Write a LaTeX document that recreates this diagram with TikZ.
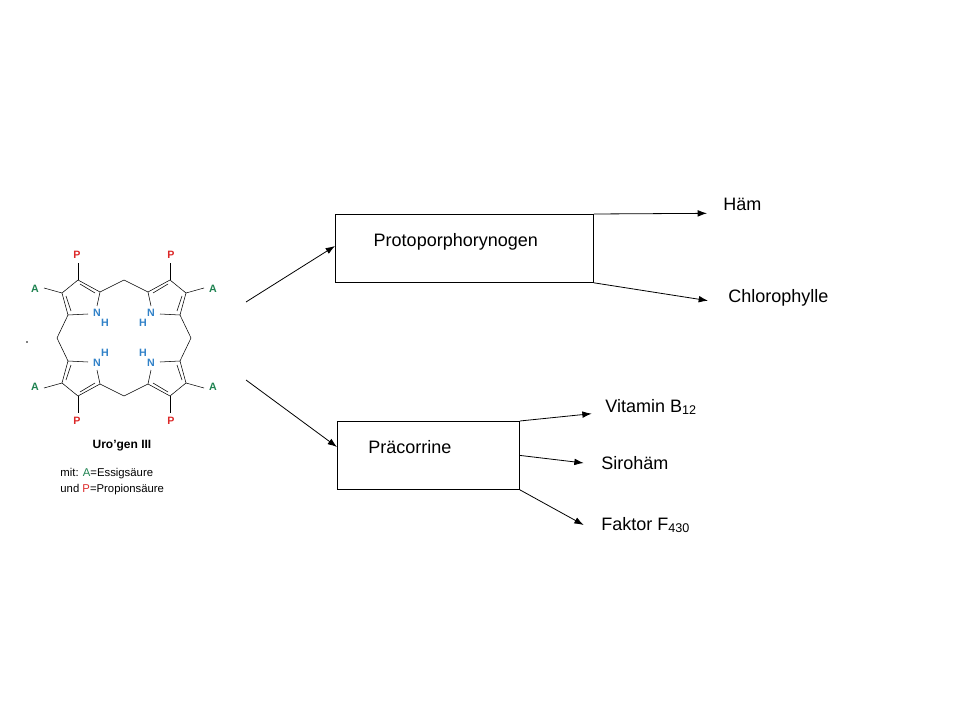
\documentclass[tikz,border=0pt]{standalone}
\usepackage{fontspec}
\setmainfont{Liberation Sans}
\usetikzlibrary{arrows.meta,positioning}
\definecolor{molred}{RGB}{220,40,40}
\definecolor{molgreen}{RGB}{30,130,80}
\definecolor{molblue}{RGB}{50,130,200}
\newcommand{\quarterring}{%
  \draw (78,280) -- (62,293) -- (68,315) -- (88,314);
  \draw (100,292) -- (78,280);
  \draw (97,306) -- (100,292);
  \draw (80,284) -- (95,293);
  \draw (66,296) -- (71,311);
  \draw (78,280) -- (78,263);
  \draw (62,293) -- (44,288);
  \draw (100,292) -- (124,280);
  \draw (68,315) -- (57,338);
  \node[molred,mol] at (77,255) {P};
  \node[molgreen,mol] at (35,289) {A};
  \node[molblue,mol] at (97,313) {N};
  \node[molblue,mol] at (105,323) {H};
}
\begin{document}
\begin{tikzpicture}[x=0.75pt,y=-0.75pt,>={Latex[length=7pt,width=5pt]},
    semithick,
    mol/.style={font=\fontsize{8}{9}\selectfont\bfseries,inner sep=0pt},
    stagebox/.style={draw,minimum height=51pt,text depth=12pt,
      font=\fontsize{13.5}{16}\selectfont,inner sep=0pt,anchor=north west},
    product/.style={font=\fontsize{13.5}{16}\selectfont,anchor=west,inner sep=0pt}]
  \useasboundingbox (0,0) rectangle (960,720);

  % Uro'gen III
  \begin{scope}[thin]
    \quarterring
  \end{scope}
  \begin{scope}[thin,xshift=186pt,xscale=-1]
    \quarterring
  \end{scope}
  \begin{scope}[thin,yshift=-507pt,yscale=-1]
    \quarterring
  \end{scope}
  \begin{scope}[thin,xshift=186pt,yshift=-507pt,xscale=-1,yscale=-1]
    \quarterring
  \end{scope}
  \fill (27,342) circle (0.8);
  \node[mol,font=\fontsize{9}{10}\selectfont\bfseries] (urogen) at (122,446) {Uro’gen III};
  \node[anchor=west,inner sep=0pt,font=\fontsize{8.5}{10}\selectfont] (key1) at (60,474)
    {mit: \textcolor{molgreen}{A}=Essigsäure};
  \node[anchor=west,inner sep=0pt,font=\fontsize{8.5}{10}\selectfont] (key2) at (60,490)
    {und \textcolor{molred}{P}=Propionsäure};

  % Zwischenstufen
  \node[stagebox,minimum width=193.5pt,text width=170pt,align=left] (proto) at (335,214)
    {\hspace*{17pt}Protoporphorynogen};
  \node[stagebox,minimum width=136.5pt,text width=120pt,align=left] (praec) at (337,421)
    {\hspace*{15pt}Präcorrine};

  \coordinate (start1) at (246,302);
  \coordinate (start2) at (246,380);
  \draw[->] (start1) -- (proto.west |- 0,246);
  \draw[->] (start2) -- (praec.west |- 0,447);

  % Produkte
  \node[product] (haem)  at (723,204) {Häm};
  \node[product] (chl)   at (728,298) {Chlorophylle};
  \node[product] (vitb)  at (605,407) {Vitamin B\textsubscript{12}};
  \node[product] (siro)  at (601,463) {Sirohäm};
  \node[product] (fak)   at (601,525) {Faktor F\textsubscript{430}};

  \draw[->] (proto.north east) -- ([xshift=-12pt,yshift=-7pt]haem.west);
  \draw[->] (proto.south east) -- ([xshift=-15pt,yshift=-2pt]chl.west);
  \draw[->] (praec.north east) -- ([xshift=-10pt,yshift=-5pt]vitb.west);
  \draw[->] (praec.east) -- ([xshift=-13pt]siro.west);
  \draw[->] (praec.south east) -- ([xshift=-13pt]fak.west);
\end{tikzpicture}
\end{document}
